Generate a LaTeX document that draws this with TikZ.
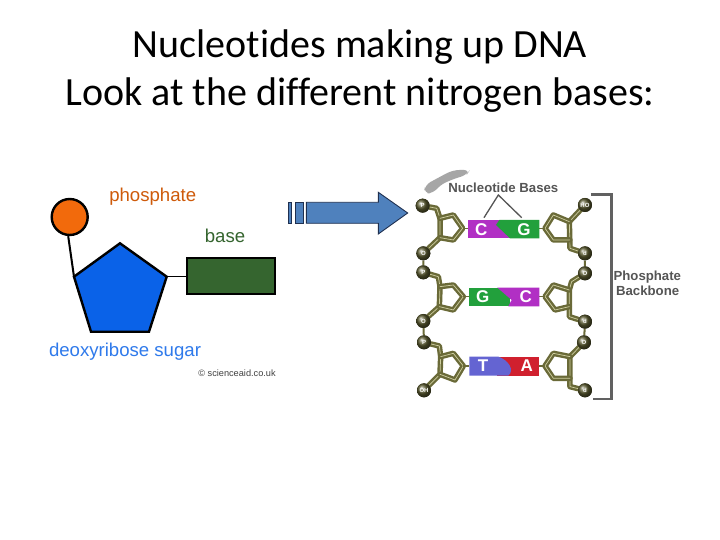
\documentclass[tikz,border=0pt]{standalone}
\usepackage{fontspec}
\setmainfont[RawFeature={-liga;-dlig;-clig}]{Carlito}
\newfontfamily\arialf{Liberation Sans}
\definecolor{sugarblue}{HTML}{0A62E8}
\definecolor{phosorange}{HTML}{F26A0C}
\definecolor{basegreen}{HTML}{35652F}
\definecolor{arrowblue}{HTML}{4F81BD}
\definecolor{arrowline}{HTML}{1F3050}
\definecolor{purplebase}{HTML}{B12FC4}
\definecolor{greenbase}{HTML}{22A03C}
\definecolor{bluebase}{HTML}{6464D2}
\definecolor{redbase}{HTML}{D0202E}
\definecolor{olivedark}{HTML}{6A6A38}
\definecolor{olivelight}{HTML}{CFCFA0}
\definecolor{graytext}{HTML}{555555}
\tikzset{
  titletext/.style={font=\fontsize{40}{48}\selectfont, align=center, text=black, inner sep=0},
  leftlabel/.style={font=\arialf\fontsize{18.6}{20}\selectfont, inner sep=0},
  outlined/.style={draw=black, line width=2.4pt, line join=miter},
  arrowpart/.style={draw=arrowline, fill=arrowblue, line width=0.9pt},
  backbone/.style={draw=olivedark, line width=2.4pt, double=olivelight, double distance=0.7pt, line join=round, line cap=round},
  ballnode/.style={circle, minimum size=14pt, inner sep=0, ball color=olivedark!85!black, text=white, font=\arialf\bfseries\fontsize{6}{7}\selectfont},
  baseletter/.style={text=white, inner sep=0, font=\arialf\bfseries\fontsize{17}{18}\selectfont},
  graylabel/.style={text=graytext, inner sep=0, font=\arialf\bfseries\fontsize{13.2}{14}\selectfont},
  bracketline/.style={draw=black!62, line width=2.4pt, line join=miter},
  pointer/.style={draw=graytext, line width=1.3pt}
}
\begin{document}
\begin{tikzpicture}[x=1pt,y=-1pt]
\useasboundingbox (0,0) rectangle (720,540);
\fill[white] (0,0) rectangle (720,540);
\node[titletext] (title) at (360,71) {Nucleotides making up DNA\\Look at the different nitrogen bases:};

% left figure
\coordinate (pleft) at (74,276.7);
\coordinate (pright) at (166.7,276.7);
\node[circle, outlined, fill=phosorange, minimum size=36pt, inner sep=0] (phos) at (69.7,217) {};
\node[outlined, fill=basegreen, minimum width=88pt, minimum height=36pt, inner sep=0] (basebox) at (231,275.7) {};
\draw[black, line width=2pt] (phos.south) ++(-1.5,0) -- (pleft);
\draw[black, line width=1.4pt] (pright) -- (basebox.west |- pright);
\draw[outlined, fill=sugarblue] (120,243.3) -- (pright) -- (149,331.7) -- (91,331.7) -- (pleft) -- cycle;
\node[leftlabel, text=phosorange!85!black] (lphos) at (152.7,197) {phosphate};
\node[leftlabel, text=basegreen] (lbase) at (225,236) {base};
\node[leftlabel, text=sugarblue!85!white] (lsugar) at (125,352) {deoxyribose sugar};
\node[inner sep=0, text=black!75, font=\arialf\fontsize{9.2}{10}\selectfont] (lcopy) at (237,373) {© scienceaid.co.uk};

% block arrow
\draw[arrowpart] (288.3,202.3) rectangle (291.7,223.3);
\draw[arrowpart] (295.3,202.3) rectangle (303.7,223.3);
\draw[arrowpart] (306.3,202.3) -- (378.3,202.3) -- (378.3,192.3) -- (407.7,213) -- (378.3,234) -- (378.3,223.3) -- (306.3,223.3) -- cycle;

% DNA figure (coordinates are those of a 3x crop at 410,165)
\begin{scope}[shift={(410,165)}, x=0.3333pt, y=-0.3333pt]
\fill[black!35, rounded corners=6pt] (42,85) -- (45,60) -- (100,30) -- (130,15) -- (180,15) -- (170,30) -- (130,42) -- (90,60) -- (70,85) -- cycle;

\node[ballnode] (p1) at (38,122) {P};
\node[ballnode] (o1) at (40,265) {O};
\node[ballnode] (p2) at (40,322) {P};
\node[ballnode] (o2) at (40,468) {O};
\node[ballnode] (p3) at (42,532) {P};
\node[ballnode] (oh) at (42,676) {OH};
\node[ballnode] (ho) at (525,120) {HO};
\node[ballnode] (d1) at (525,265) {d};
\node[ballnode] (o3) at (525,325) {O};
\node[ballnode] (d2) at (525,470) {d};
\node[ballnode] (o4) at (522,532) {O};
\node[ballnode] (d3) at (525,676) {d};

\draw[backbone] (p1) -- (80,130) -- (90,160) -- (90,218) -- (o1);
\draw[backbone] (90,160) -- (130,150) -- (158,190) -- (130,225) -- (90,218);
\draw[backbone] (p2) -- (85,335) -- (90,365) -- (88,425) -- (o2);
\draw[backbone] (90,365) -- (130,360) -- (160,395) -- (130,435) -- (88,425);
\draw[backbone] (p3) -- (88,543) -- (92,575) -- (90,628) -- (oh);
\draw[backbone] (92,575) -- (130,565) -- (160,603) -- (135,645) -- (90,628);
\draw[backbone] (ho) -- (478,170) -- (480,250) -- (d1);
\draw[backbone] (478,170) -- (430,150) -- (405,190) -- (430,225) -- (479,225);
\draw[backbone] (o3) -- (485,350) -- (478,375) -- (478,455) -- (d2);
\draw[backbone] (478,375) -- (430,360) -- (405,395) -- (435,435) -- (478,425);
\draw[backbone] (o4) -- (480,575) -- (480,665) -- (d3);
\draw[backbone] (480,575) -- (430,565) -- (405,603) -- (430,640) -- (480,640);
\draw[olivedark, line width=2pt] (o1) -- (p2) (o2) -- (p3) (d1) -- (o3) (d2) -- (o4);
\draw[olivedark, line width=1.6pt] (158,190) -- (175,190) (388,190) -- (405,190) (160,395) -- (177,395) (388,395) -- (405,395) (160,603) -- (178,603) (388,603) -- (405,603);
\foreach \n/\t in {p1/P,o1/O,p2/P,o2/O,p3/P,oh/OH,ho/HO,d1/d,o3/O,d2/d,o4/O,d3/d}
  \node[ballnode] at (\n) {\t};

% base pairs
\fill[purplebase] (175,165) rectangle (300,220);
\fill[greenbase] (268,165) -- (388,165) -- (388,220) -- (300,220) -- (258,180) -- cycle;
\fill[greenbase] (177,368) rectangle (300,424);
\fill[purplebase] (262,368) -- (388,368) -- (388,424) -- (295,424) -- (305,405) -- cycle;
\fill[redbase] (260,575) rectangle (388,632);
\fill[bluebase] (178,575) -- (265,575) .. controls (295,585) and (315,615) .. (295,632) -- (178,632) -- cycle;
\node[baseletter] (bc1) at (214,193) {C};
\node[baseletter] (bg1) at (342,193) {G};
\node[baseletter] (bg2) at (218,396) {G};
\node[baseletter] (bc2) at (347,396) {C};
\node[baseletter] (bt) at (219,603) {T};
\node[baseletter] (ba) at (350,603) {A};

% labels
\node[graylabel] (nb) at (280,68) {Nucleotide Bases};
\coordinate (peak) at (265,90);
\draw[pointer] (222,158) -- (peak) -- (335,158);
\draw[bracketline] (543,88) -- (605,88) -- (605,702) -- (548,702);
\node[graylabel] (pb1) at (712,335) {Phosphate};
\node[graylabel] (pb2) at (713,378) {Backbone};
\end{scope}
\end{tikzpicture}
\end{document}
